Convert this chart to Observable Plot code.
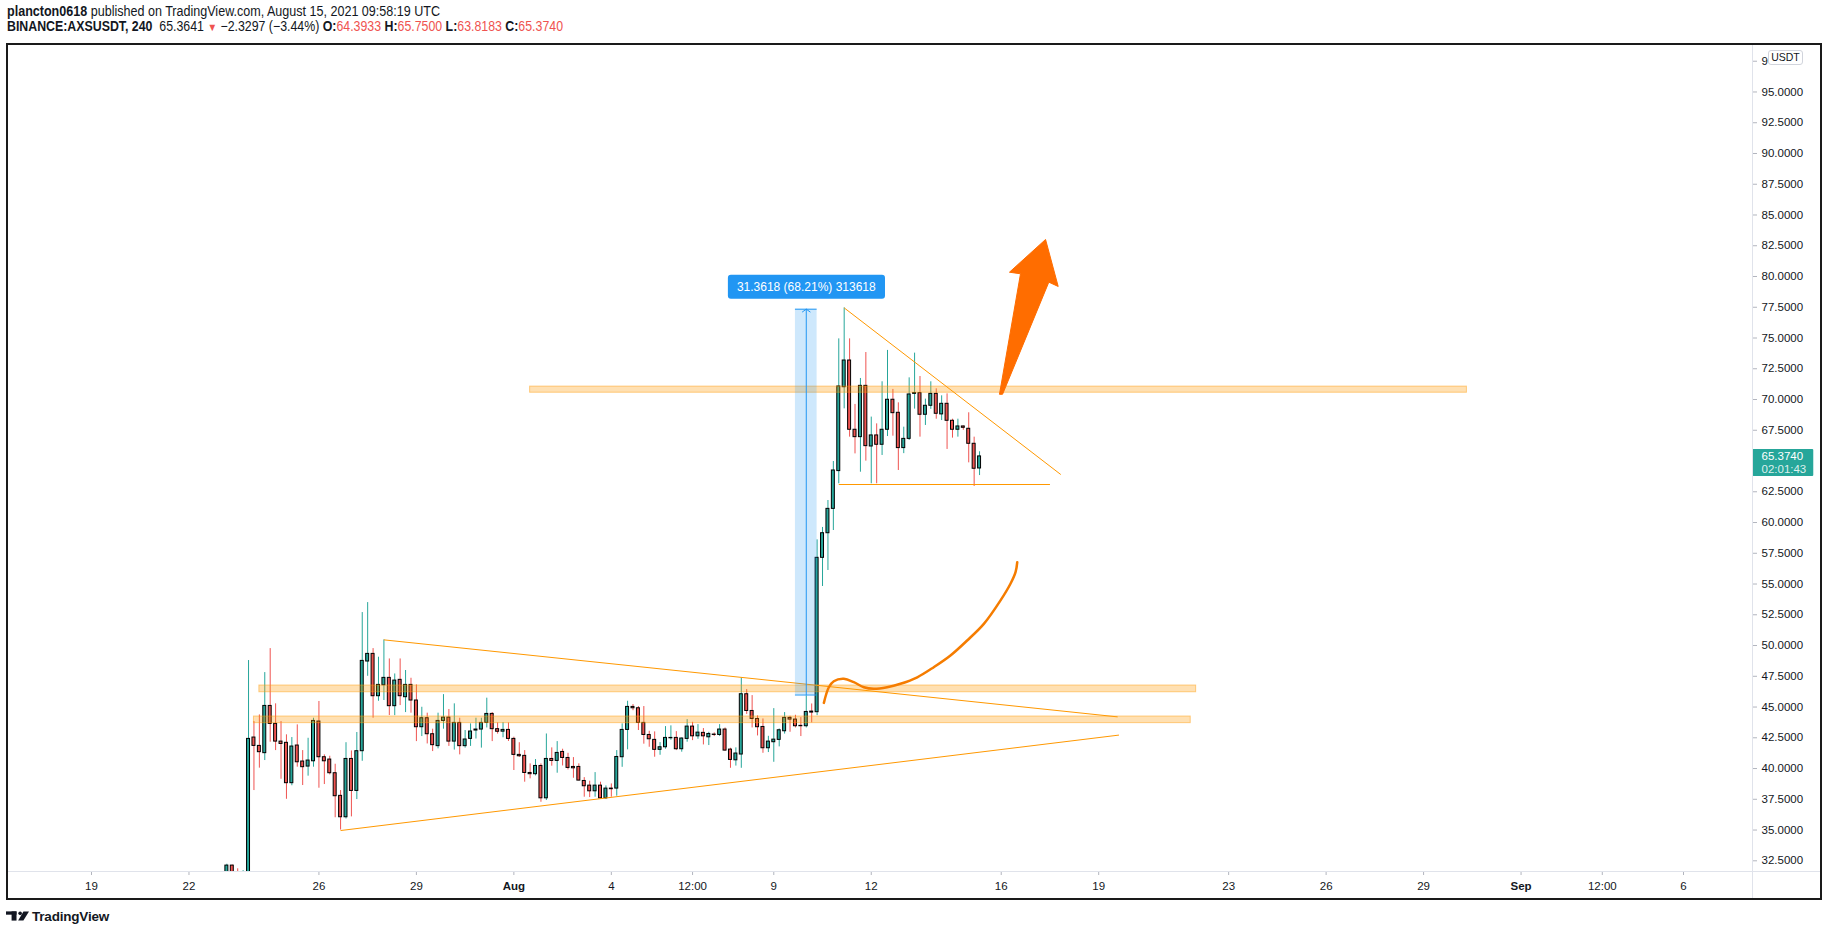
<!DOCTYPE html>
<html>
<head>
<meta charset="utf-8">
<script src="https://cdn.jsdelivr.net/npm/d3@7"></script>
<script src="https://cdn.jsdelivr.net/npm/@observablehq/plot@0.6"></script>
<style>
  html, body { margin:0; padding:0; background:#fff; }
  body { width:1828px; height:936px; position:relative; overflow:hidden; color:#131722; }
  .hdr { position:absolute; left:7px; font-family:"Liberation Sans",Arial,sans-serif; font-size:14px; line-height:15px; white-space:nowrap; color:#131722; transform-origin:0 50%; }
  .hdr b { font-weight:700; }
  .red { color:#ef5350; }
  .tri { color:#ef5350; font-size:11px; }
  #chart { position:absolute; left:7px; top:44px; }
  #frame { position:absolute; left:6px; top:43px; width:1816px; height:857px; border:2px solid #1a1a1a; box-sizing:border-box; pointer-events:none; }
  .sep { position:absolute; background:#e0e3eb; }
  #usdt { position:absolute; left:1768px; top:50px; width:35px; height:15px; box-sizing:border-box; border:1px solid #d1d4dc; border-radius:3px; background:#fff; font-family:"Liberation Sans",Arial,sans-serif; font-size:10.5px; line-height:13px; text-align:center; color:#131722; }
  #logo { position:absolute; left:6px; top:907px; height:18px; display:flex; align-items:center; gap:3px; font-family:"Liberation Sans",Arial,sans-serif; font-weight:700; font-size:13.5px; color:#131722; letter-spacing:-0.2px; }
</style>
</head>
<body>
<div class="hdr" id="h1" data-w="433" style="top:4px"><b>plancton0618</b> published on TradingView.com, August 15, 2021 09:58:19 UTC</div>
<div class="hdr" id="h2" data-w="556" style="top:19px"><b>BINANCE:AXSUSDT, 240</b>&nbsp; 65.3641 <span class="tri">&#9660;</span> &minus;2.3297 (&minus;3.44%) <b>O:</b><span class="red">64.3933</span> <b>H:</b><span class="red">65.7500</span> <b>L:</b><span class="red">63.8183</span> <b>C:</b><span class="red">65.3740</span></div>
<div id="chart"></div>
<div class="sep" style="left:7px; top:871px; width:1815px; height:1px;"></div>
<div class="sep" style="left:1752px; top:44px; width:1px; height:855px;"></div>
<div id="frame"></div>
<div id="usdt">USDT</div>
<div id="logo"><svg width="23" height="10" viewBox="0 0 70 28"><rect x="0" y="0" width="32" height="10" fill="#131722"/><rect x="17" y="0" width="15" height="28" fill="#131722"/><circle cx="43" cy="6" r="5.5" fill="#131722"/><polygon points="53,0 70,0 53,28 37,28" fill="#131722"/></svg><span>TradingView</span></div>
<script>
// ---------- candle data (BINANCE:AXSUSDT, 4h) ----------
const firstCandle = "2021-07-23T04:00:00Z";
const candleHours = 4;
const opens = [
  30.60, 32.11, 31.20, 30.70,
  31.20, 42.52, 41.84, 41.25, 45.09, 43.63, 42.19, 42.09, 38.81, 41.87,
  40.57, 40.16, 40.59, 43.82, 40.92, 40.73, 39.62, 37.78, 36.04, 40.78,
  38.18, 41.41, 48.70, 49.32, 45.88, 46.77, 47.37, 45.07, 47.21, 45.80,
  46.80, 45.53, 43.36, 44.09, 42.79, 41.82, 43.87, 44.14, 42.19, 43.71,
  41.82, 42.41, 43.09, 43.17, 43.71, 44.44, 43.20, 43.00, 43.14, 42.41,
  41.11, 41.03, 39.64, 39.54, 40.21, 37.58, 40.78, 40.62, 41.35, 40.86,
  40.13, 40.13, 38.99, 38.61, 38.15, 38.61, 37.58, 38.37, 38.37, 40.92,
  43.14, 45.01, 44.90, 43.71, 42.73, 42.33, 41.52, 41.73, 42.46, 42.49,
  41.57, 42.41, 43.41, 42.62, 42.90, 42.54, 42.76, 42.73, 43.17, 41.54,
  40.67, 41.14, 46.04, 44.68, 44.03, 43.38, 41.65, 42.14, 42.33, 43.03,
  44.12, 43.98, 43.47, 43.44, 44.63, 44.58, 57.13, 59.13, 61.11, 64.18,
  71.00, 73.17, 67.54, 66.94, 71.11, 66.18, 67.08, 66.32, 67.54, 69.98,
  68.92, 66.05, 66.80, 70.46, 70.52, 68.76, 69.49, 70.46, 68.79, 69.65,
  68.27, 67.54, 67.81, 67.62, 66.40, 64.3933
];
const highs = [
  32.22, 32.15, 31.85, 31.70,
  48.78, 43.82, 44.36, 47.80, 49.75, 45.26, 43.82, 42.74, 42.52, 43.55,
  41.46, 42.46, 44.09, 45.45, 41.11, 41.00, 40.35, 38.21, 42.10, 41.43,
  42.93, 52.68, 53.49, 49.75, 49.05, 50.46, 48.91, 47.69, 48.91, 47.97,
  47.34, 46.80, 44.98, 44.50, 43.20, 44.50, 46.01, 44.80, 45.26, 44.09,
  43.09, 43.63, 44.09, 44.09, 45.72, 44.55, 43.71, 43.73, 43.71, 42.55,
  42.10, 41.46, 40.38, 40.73, 40.38, 42.81, 41.68, 42.19, 41.57, 41.24,
  40.89, 40.38, 39.26, 38.97, 39.67, 38.89, 38.59, 38.75, 41.46, 43.63,
  45.47, 45.20, 45.04, 45.04, 43.03, 42.98, 42.11, 43.41, 43.47, 43.00,
  42.49, 43.98, 43.76, 43.57, 43.25, 42.95, 42.90, 43.57, 43.30, 41.65,
  41.68, 47.37, 46.42, 45.93, 44.28, 44.03, 42.62, 44.87, 43.22, 44.55,
  44.25, 44.33, 44.14, 45.90, 45.25, 58.59, 59.60, 61.79, 64.96, 74.93,
  77.45, 74.93, 69.60, 71.71, 73.82, 68.57, 68.02, 71.44, 73.99, 70.82,
  69.73, 67.75, 71.76, 73.77, 71.87, 70.03, 71.44, 70.87, 70.30, 70.46,
  68.40, 68.40, 67.85, 68.92, 66.94, 65.75
];
const lows = [
  30.20, 30.40, 30.30, 30.40,
  31.00, 38.21, 40.03, 40.65, 42.14, 41.46, 39.13, 37.50, 38.60, 40.11,
  38.62, 39.38, 40.11, 38.40, 38.70, 39.48, 36.00, 35.00, 35.90, 36.07,
  37.48, 40.59, 47.50, 44.09, 45.47, 45.53, 44.31, 44.30, 45.12, 44.55,
  44.50, 42.19, 42.60, 42.00, 41.38, 41.60, 43.20, 41.80, 41.50, 41.11,
  41.66, 41.80, 42.40, 41.66, 43.30, 42.19, 42.80, 42.50, 42.20, 39.84,
  40.90, 38.89, 39.16, 39.40, 37.26, 37.40, 40.19, 39.62, 40.21, 39.89,
  39.21, 39.00, 37.67, 37.64, 37.67, 37.53, 37.48, 37.67, 37.75, 40.10,
  41.52, 44.70, 43.09, 41.98, 41.73, 40.92, 41.08, 41.57, 42.30, 41.46,
  41.33, 42.14, 42.27, 42.38, 41.92, 41.87, 42.60, 42.60, 41.41, 40.02,
  40.20, 40.02, 44.40, 43.30, 42.65, 41.24, 41.30, 40.51, 41.76, 42.80,
  42.95, 43.30, 42.60, 43.30, 43.71, 44.30, 54.80, 56.10, 59.35, 63.15,
  69.24, 66.94, 65.58, 64.09, 64.99, 63.15, 63.15, 65.45, 66.99, 67.02,
  64.23, 65.60, 66.67, 69.22, 66.94, 67.89, 69.20, 68.40, 68.29, 65.94,
  66.86, 66.94, 67.50, 64.85, 62.93, 63.8183
];
const closes = [
  32.11, 30.90, 30.70, 31.20,
  42.41, 41.84, 41.33, 45.09, 43.63, 42.19, 42.00, 38.81, 41.79, 40.51,
  40.11, 40.65, 43.87, 40.92, 40.59, 39.62, 37.75, 36.04, 40.78, 38.18,
  41.41, 48.75, 49.32, 45.88, 46.80, 47.37, 45.07, 47.15, 45.88, 46.80,
  45.53, 43.36, 44.09, 42.79, 41.90, 43.87, 44.14, 42.19, 43.71, 41.82,
  42.36, 43.01, 43.17, 43.71, 44.44, 43.20, 42.99, 43.14, 42.41, 41.11,
  41.00, 39.64, 39.54, 40.21, 37.58, 40.78, 40.62, 41.27, 40.86, 40.05,
  40.02, 39.02, 38.56, 38.15, 38.61, 37.58, 38.37, 38.32, 40.94, 43.14,
  45.01, 44.90, 43.71, 42.73, 42.38, 41.52, 41.73, 42.49, 42.49, 41.57,
  42.44, 43.41, 42.62, 42.92, 42.62, 42.81, 42.73, 43.17, 41.46, 40.70,
  41.22, 46.04, 44.68, 44.03, 43.36, 41.65, 42.19, 42.35, 43.11, 44.12,
  43.98, 43.44, 43.44, 44.60, 44.55, 57.13, 59.13, 61.11, 64.23, 71.06,
  73.17, 67.54, 66.94, 71.11, 66.21, 67.08, 66.32, 67.54, 69.98, 68.89,
  66.05, 66.80, 70.41, 70.52, 68.76, 69.49, 70.46, 68.84, 69.65, 68.27,
  67.54, 67.81, 67.70, 66.40, 64.37, 65.374
];
const countdown = "02:01:43";

// ---------- axis ticks ----------
const xTickDates = ["2021-07-19","2021-07-22","2021-07-26","2021-07-29","2021-08-01","2021-08-04","2021-08-06T12:00:00Z","2021-08-09","2021-08-12","2021-08-16","2021-08-19","2021-08-23","2021-08-26","2021-08-29","2021-09-01","2021-09-03T12:00:00Z","2021-09-06"];
const xTickLabels = ["19","22","26","29","Aug","4","12:00","9","12","16","19","23","26","29","Sep","12:00","6"];
const monthLabels = ["Aug","Sep"];
const yTicks = [32.5,35,37.5,40,42.5,45,47.5,50,52.5,55,57.5,60,62.5,67.5,70,72.5,75,77.5,80,82.5,85,87.5,90,92.5,95,97.5];
const yTopTick = 97.5;      // its label is mostly hidden under the USDT badge: only "9" shows
const yTopTickShown = "9";

// ---------- drawings ----------
const bandStart = ["2021-08-01T12:00:00Z","2021-07-24T04:00:00Z","2021-07-24T00:00:00Z"];
const bandEnd   = ["2021-08-30T08:00:00Z","2021-08-22T00:00:00Z","2021-08-21T20:00:00Z"];
const bandLow   = [70.55, 46.20, 43.69];
const bandHigh  = [71.05, 46.75, 44.23];

const lineStart      = ["2021-07-28T00:00:00Z","2021-07-26T16:00:00Z","2021-08-11T04:00:00Z","2021-08-11T00:00:00Z"];
const lineStartValue = [50.46, 34.96, 77.45, 63.09];
const lineEnd        = ["2021-08-19T14:00:00Z","2021-08-19T15:00:00Z","2021-08-17T20:00:00Z","2021-08-17T12:00:00Z"];
const lineEndValue   = [44.20, 42.72, 63.90, 63.09];

const measureStart = "2021-08-09T16:00:00Z";
const measureMid   = "2021-08-10T00:00:00Z";
const measureEnd   = "2021-08-10T08:00:00Z";
const measureLow   = 45.9782;
const measureHigh  = 77.34;
const measureLabel = "31.3618 (68.21%) 313618";

const curveTimes  = ["2021-08-10T13:00:00Z","2021-08-10T16:40:00Z","2021-08-10T20:20:00Z","2021-08-11T03:45:00Z","2021-08-11T11:05:00Z","2021-08-11T18:30:00Z","2021-08-12T01:50:00Z","2021-08-12T11:45:00Z","2021-08-12T21:35:00Z","2021-08-13T10:00:00Z","2021-08-13T22:10:00Z","2021-08-14T10:30:00Z","2021-08-14T22:50:00Z","2021-08-15T11:10:00Z","2021-08-15T23:30:00Z","2021-08-16T06:50:00Z","2021-08-16T10:35:00Z","2021-08-16T11:50:00Z"];
const curveValues = [45.34, 46.61, 47.10, 47.29, 47.02, 46.61, 46.48, 46.61, 46.89, 47.42, 48.24, 49.19, 50.41, 51.76, 53.67, 55.02, 55.96, 56.77];

const arrowTimes  = ["2021-08-15T22:45:00Z","2021-08-16T14:15:00Z","2021-08-16T06:05:00Z","2021-08-17T08:45:00Z","2021-08-17T18:05:00Z","2021-08-17T11:10:00Z","2021-08-16T01:05:00Z"];
const arrowValues = [70.45, 80.22, 80.35, 83.01, 79.19, 79.54, 70.45];

// ---------- header width fit ----------
document.querySelectorAll(".hdr").forEach(el => {
  const w = el.getBoundingClientRect().width, target = +el.dataset.w;
  if (w > 0) el.style.transform = `scaleX(${target / w})`;
});

// ---------- build ----------
const HOUR = 3600e3, DAY = 24 * HOUR;
const green = "#26a69a", red = "#ef5350", orange = "#ff9800", blue = "#2196f3";
const t0 = Date.parse(firstCandle);
const candles = opens.map((o, i) => ({t: new Date(t0 + i * candleHours * HOUR), o, h: highs[i], l: lows[i], c: closes[i]}));
const colorOf = d => (d.c >= d.o ? green : red);
const bodyHalf = 1.1 * HOUR;

const bands = bandStart.map((s, i) => ({x1: new Date(s), x2: new Date(bandEnd[i]), y1: bandLow[i], y2: bandHigh[i]}));
const lines = lineStart.map((s, i) => ({x1: new Date(s), y1: lineStartValue[i], x2: new Date(lineEnd[i]), y2: lineEndValue[i]}));
const curve = curveTimes.map((s, i) => ({x: new Date(s), y: curveValues[i]}));
const arrowPts = arrowTimes.map((s, i) => ({x: new Date(s), y: arrowValues[i]}));
const measure = {x1: new Date(measureStart), xm: new Date(measureMid), x2: new Date(measureEnd), lo: measureLow, hi: measureHigh, label: measureLabel};
const last = candles[candles.length - 1];

const ref = Date.UTC(2021, 6, 19);
const xDomain = [new Date(ref - 2.5854 * DAY), new Date(ref + 51.1234 * DAY)];
const yDomain = [31.63, 98.86];
const tickLabel = new Map(xTickDates.map((s, i) => [+new Date(s), xTickLabels[i]]));

const plot = Plot.plot({
  width: 1815, height: 855,
  marginLeft: 0, marginRight: 70, marginTop: 0, marginBottom: 28,
  style: {fontFamily: "'Liberation Sans', Arial, sans-serif", fontSize: "11.5px", color: "#131722", background: "transparent", overflow: "visible"},
  color: {type: "identity"},
  x: {type: "utc", domain: xDomain, ticks: xTickDates.map(s => new Date(s)), tickFormat: d => tickLabel.get(+d) ?? "", tickSize: 4, tickPadding: 6, label: null},
  y: {domain: yDomain, axis: "right", ticks: yTicks, tickFormat: d => (d === yTopTick ? yTopTickShown : d.toFixed(4)), tickSize: 4, tickPadding: 5, label: null},
  marks: [
    Plot.ruleX(candles, {x: "t", y1: "l", y2: "h", stroke: colorOf, strokeWidth: 1, clip: true}),
    Plot.rect(candles, {x1: d => new Date(+d.t - bodyHalf), x2: d => new Date(+d.t + bodyHalf), y1: "o", y2: "c", fill: colorOf, stroke: "#000", strokeWidth: 1, clip: true}),
    Plot.rect(bands, {x1: "x1", x2: "x2", y1: "y1", y2: "y2", fill: orange, fillOpacity: 0.3, stroke: orange, strokeOpacity: 0.45, strokeWidth: 1}),
    Plot.link(lines, {x1: "x1", y1: "y1", x2: "x2", y2: "y2", stroke: orange, strokeWidth: 1}),
    Plot.rect([measure], {x1: "x1", x2: "x2", y1: "lo", y2: "hi", fill: blue, fillOpacity: 0.22}),
    Plot.ruleY([measure.lo, measure.hi], {x1: measure.x1, x2: measure.x2, stroke: blue, strokeWidth: 1}),
    Plot.arrow([measure], {x1: "xm", x2: "xm", y1: "lo", y2: "hi", stroke: blue, strokeWidth: 1, headLength: 7, headAngle: 110}),
    Plot.line(curve, {x: "x", y: "y", stroke: "#f57c00", strokeWidth: 2.5, curve: "catmull-rom"}),
    Plot.line(arrowPts, {x: "x", y: "y", fill: "#ff6d00", stroke: "#ff6d00", strokeWidth: 1, curve: "linear-closed"}),
    Plot.text([measure], {x: "xm", y: "hi", text: "label", dy: -22.4, fill: "#ffffff", fontSize: 12}),
    Plot.text([last], {x: () => xDomain[1], y: "c", text: d => d.c.toFixed(4), dx: 9, textAnchor: "start", fill: "#ffffff", fontSize: 11.5}),
    Plot.text([last], {x: () => xDomain[1], y: "c", text: () => countdown, dx: 9, dy: 13, textAnchor: "start", fill: "rgba(255,255,255,0.85)", fontSize: 11.5})
  ]
});

document.getElementById("chart").appendChild(plot);
const svgEl = plot.tagName.toLowerCase() === "svg" ? plot : plot.querySelector("svg");
const sRect = svgEl.getBoundingClientRect();

// axis tick styling
svgEl.querySelectorAll('[aria-label="x-axis tick"] path, [aria-label="y-axis tick"] path, [aria-label="x-axis"] line, [aria-label="y-axis"] line').forEach(e => e.setAttribute("stroke", "#b2b5be"));
svgEl.querySelectorAll("text").forEach(t => { if (monthLabels.includes(t.textContent)) t.setAttribute("font-weight", "bold"); });

function findText(str) { return Array.from(svgEl.querySelectorAll("text")).find(t => t.textContent === str); }
function addBox(texts, fill, padL, padR, padT, padB, rx) {
  let x0 = Infinity, y0 = Infinity, x1 = -Infinity, y1 = -Infinity;
  texts.forEach(t => { const r = t.getBoundingClientRect(); x0 = Math.min(x0, r.left); y0 = Math.min(y0, r.top); x1 = Math.max(x1, r.right); y1 = Math.max(y1, r.bottom); });
  const rect = document.createElementNS("http://www.w3.org/2000/svg", "rect");
  rect.setAttribute("x", x0 - sRect.left - padL);
  rect.setAttribute("y", y0 - sRect.top - padT);
  rect.setAttribute("width", x1 - x0 + padL + padR);
  rect.setAttribute("height", y1 - y0 + padT + padB);
  rect.setAttribute("rx", rx);
  rect.setAttribute("fill", fill);
  let top = texts[0];
  while (top.parentNode !== svgEl) top = top.parentNode;
  svgEl.insertBefore(rect, top);
}
const mLabel = findText(measureLabel);
if (mLabel) addBox([mLabel], "#2196f3", 9, 9, 5, 5, 3);
const pLabel = findText(last.c.toFixed(4)), cLabel = findText(countdown);
if (pLabel && cLabel) addBox([pLabel, cLabel], "#26a69a", 9, 7, 1, 1, 1);
</script>
</body>
</html>
